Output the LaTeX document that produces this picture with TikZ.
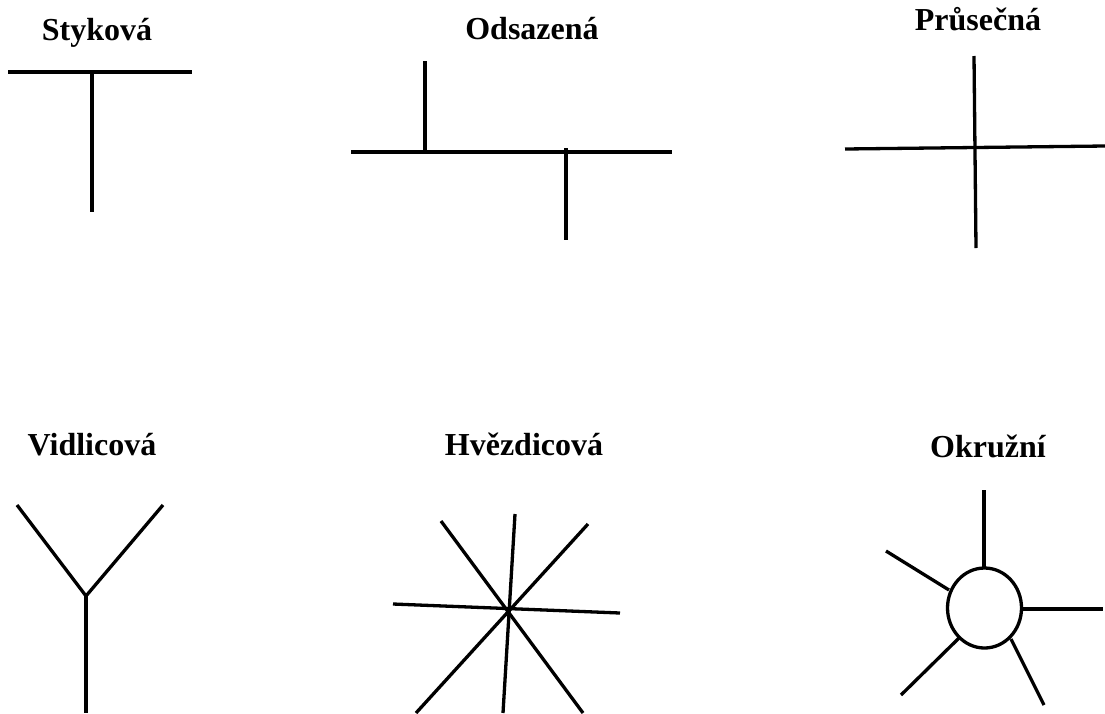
\documentclass[tikz,border=0pt]{standalone}
\usepackage{fontspec}
\setmainfont{Liberation Serif}
\begin{document}
\begin{tikzpicture}[x=1pt,y=-1pt,
  ttl/.style={anchor=base,inner sep=0pt,font=\fontsize{32}{37}\selectfont\bfseries},
  ln/.style={line width=3.3pt,line cap=butt}]
\useasboundingbox (0,0) rectangle (1105,713);
% titles
\node[ttl] (t1) at (97,40) {Styková};
\node[ttl] (t2) at (532,39) {Odsazená};
\node[ttl] (t3) at (978,30) {Průsečná};
\node[ttl] (t4) at (92,455) {Vidlicová};
\node[ttl] (t5) at (524,455) {Hvězdicová};
\node[ttl] (t6) at (988,457) {Okružní};
% Styková
\draw[ln] (8,72) -- (192,72);
\draw[ln] (92,72) -- (92,212);
% Odsazená
\draw[ln] (351,152) -- (672,152);
\draw[ln] (425,61) -- (425,152);
\draw[ln] (566,148) -- (566,240);
% Průsečná
\draw[ln] (845,149) -- (1105,146);
\draw[ln] (974,56) -- (976,248);
% Vidlicová
\coordinate (vj) at (86,596);
\draw[ln] (17,505) -- (vj) -- (163,505);
\draw[ln] (vj) -- (86,713);
% Hvězdicová
\draw[ln] (393,604) -- (620,613);
\draw[ln] (515,514) -- (503,713);
\draw[ln] (441,521) -- (583,713);
\draw[ln] (588,524) -- (416,713);
% Okružní
\draw[ln] (984.5,608) ellipse [x radius=37, y radius=40];
\draw[ln] (984,490) -- (984,568);
\draw[ln] (886,551) -- (949,590);
\draw[ln] (1021,609) -- (1103,609);
\draw[ln] (901,695) -- (959,638);
\draw[ln] (1011,639) -- (1044,705);
\end{tikzpicture}
\end{document}
